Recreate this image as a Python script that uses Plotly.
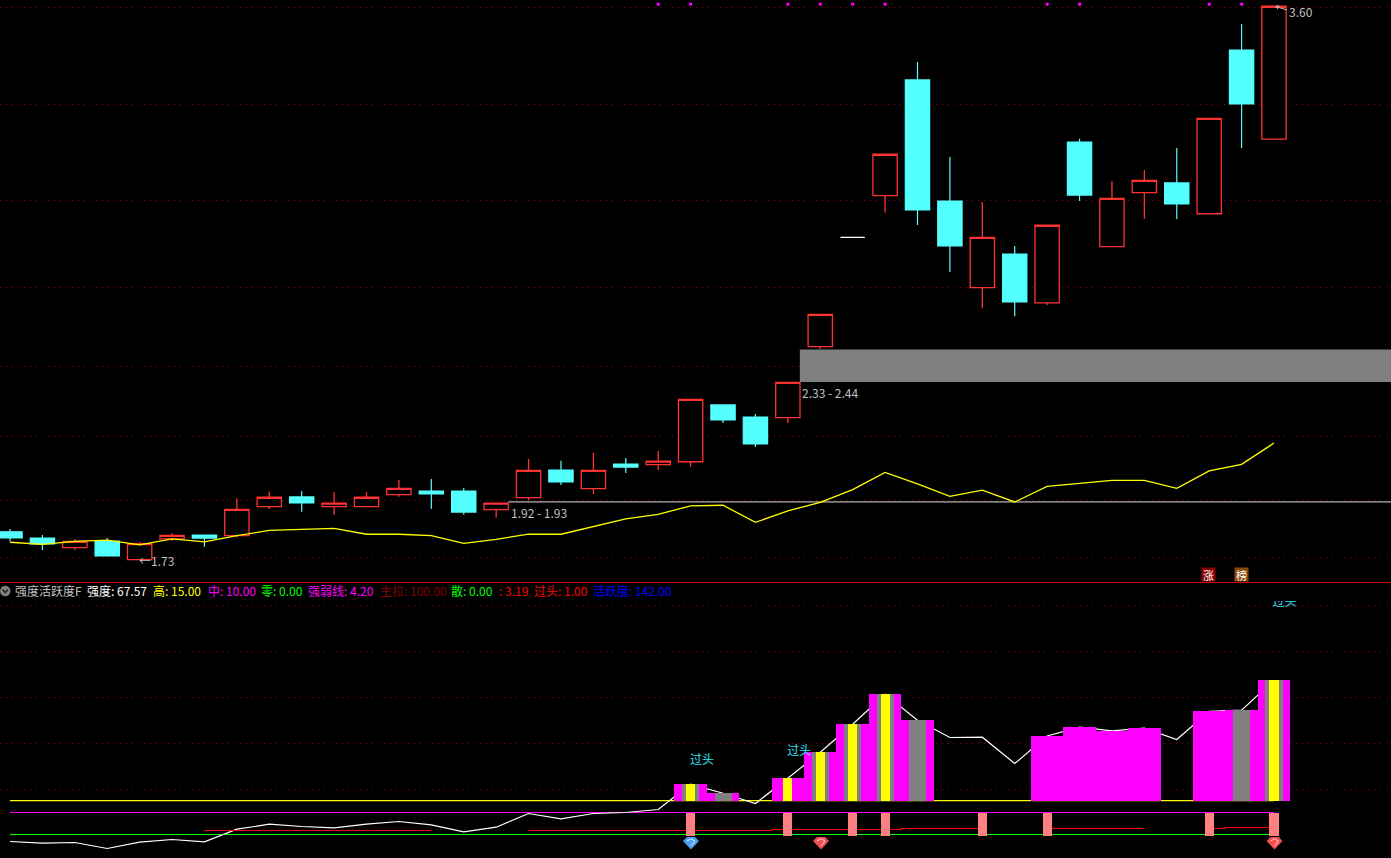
import plotly.graph_objects as go

# ---------- price panel data ----------
opens  = [1.824,1.803,1.771,1.793,1.730,1.800,1.813,1.811,1.909,1.942,1.909,1.909,1.950,1.962,1.962,1.899,1.940,2.033,1.970,2.053,
          2.051,2.061,2.253,2.212,2.210,2.450,2.819,2.960,3.351,2.942,2.649,2.763,2.598,3.141,2.788,2.970,3.003,2.899,3.452,3.151]
highs  = [1.834,1.813,1.800,1.803,1.790,1.820,1.813,1.938,1.960,1.962,1.959,1.959,1.999,2.003,1.972,1.921,2.070,2.064,2.091,2.074,
          2.097,2.272,2.253,2.222,2.329,2.559,2.819,3.100,3.412,3.091,2.939,2.790,2.860,3.152,3.010,3.047,3.121,3.221,3.540,3.600]
lows   = [1.793,1.763,1.763,1.743,1.730,1.794,1.774,1.804,1.901,1.892,1.882,1.909,1.943,1.902,1.882,1.872,1.932,1.982,1.952,2.023,
          2.033,2.043,2.192,2.111,2.192,2.442,2.819,2.903,2.861,2.702,2.580,2.553,2.591,2.942,2.788,2.881,2.881,2.899,3.121,3.151]
closes = [1.804,1.783,1.792,1.743,1.784,1.812,1.803,1.900,1.941,1.922,1.921,1.941,1.971,1.952,1.891,1.921,2.032,1.993,2.032,2.043,
          2.063,2.272,2.202,2.121,2.329,2.559,2.819,3.100,2.912,2.790,2.819,2.601,2.860,2.962,2.951,3.012,2.932,3.221,3.270,3.600]
ma_line = [1.789,1.782,1.792,1.796,1.780,1.800,1.790,1.811,1.829,1.833,1.836,1.816,1.816,1.811,1.785,1.799,1.816,1.816,1.841,1.868,
           1.883,1.912,1.914,1.856,1.895,1.924,1.967,2.025,1.986,1.944,1.965,1.925,1.978,1.987,1.998,1.998,1.971,2.030,2.052,2.124]
price_grid = [3.597,3.268,2.944,2.649,2.383,2.147,1.931,1.738]
signal_idx = [20,21,24,25,26,27,32,33,37,38]
signal_level = 3.607
band_upper = (24.37, 2.33, 2.44)
band_lower = (15.37, 1.922, 1.928)

# ---------- indicator panel data ----------
strength = [-2.60,-3.35,-3.04,-5.65,-2.91,-1.74,-2.78,2.74,4.91,3.91,3.30,4.91,6.09,4.61,1.57,3.61,9.57,7.22,9.57,10.00,
            11.30,22.30,18.39,13.91,24.91,36.22,48.39,61.43,50.13,42.61,42.74,31.30,43.30,47.09,45.48,46.65,41.74,54.04,54.48,67.57]
step_line = [None]*6 + [2.17]*8 + [None]*2 + [2.17]*8 + [2.61]*4 + [3.04]*3 + [None] + [3.04]*4 + [None] + [3.04] + [3.48]*2
high_line = [15.2]*40
mid_line = [10]*40
zero_line = [0.43]*40
bar_base = 15
pink_top = 10
pink_base = 0
indicator_grid = [20,40,60,80,100]
bar_idx = [21,22,24,25,26,27,28,32,33,34,35,37,38,39]
gray_idx = [21,22,25,26,27,28,38,39]
yellow_idx = [21,24,25,26,27,39]
pink_idx = [21,24,26,27,30,32,37,39]
over_labels_x = [20.98,23.98,38.95]
over_labels_y = [32.3,36.2,101.0]

W, H = 1391, 858
def px(x): return x / W
def py(y): return 1 - y / H

XR = [-0.3085, 42.61]
Y1R = [1.6546, 3.6212]
Y2R = [-9.78, 101.96]
RED, TEAL = "#FF3232", "#54FFFF"
idx = list(range(40))
fig = go.Figure()

# indicator lines (drawn below the bars)
for vals, col in [(high_line, "#FFFF00"), (mid_line, "#FF00FF"), (zero_line, "#00FF00")]:
    fig.add_trace(go.Scatter(x=idx, y=vals, mode="lines", line=dict(color=col, width=1.2), yaxis="y2", hoverinfo="skip"))
fig.add_trace(go.Scatter(x=idx, y=strength, mode="lines", line=dict(color="#FFFFFF", width=1.2), yaxis="y2", hoverinfo="skip"))
fig.add_trace(go.Scatter(x=idx, y=step_line, mode="lines", line=dict(color="#FF0000", width=1.2, shape="hvh"),
                         connectgaps=False, yaxis="y2", hoverinfo="skip"))

# stacked-looking bars
def bar(ids, width, color, base=bar_base, vals=None):
    ys = [(vals[i] if vals else strength[i]) - base for i in ids]
    fig.add_trace(go.Bar(x=ids, y=ys, base=[base]*len(ids), width=width, marker=dict(color=color, line=dict(width=0)),
                         yaxis="y3", hoverinfo="skip"))
bar(bar_idx, 1.0, "#FF00FF")
bar(gray_idx, 0.525, "#808080")
bar(yellow_idx, 0.28, "#FFFF00")
bar(pink_idx, 0.28, "#FF8080", base=pink_base, vals=[pink_top]*40)
fig.add_trace(go.Scatter(x=over_labels_x, y=over_labels_y, mode="text", text=["过头"]*3, textposition="middle right",
                         textfont=dict(color="#33E6FF", size=12, family="Noto Sans CJK SC"), yaxis="y3", hoverinfo="skip"))

# candles
reg = [i for i in idx if opens[i] != closes[i]]
doji = [i for i in idx if opens[i] == closes[i]]
fig.add_trace(go.Candlestick(x=reg, open=[opens[i] for i in reg], high=[highs[i] for i in reg],
                             low=[lows[i] for i in reg], close=[closes[i] for i in reg],
                             increasing=dict(line=dict(color=RED, width=1.3), fillcolor="#000000"),
                             decreasing=dict(line=dict(color=TEAL, width=1.2), fillcolor=TEAL),
                             whiskerwidth=0, yaxis="y", hoverinfo="skip"))
fig.add_trace(go.Candlestick(x=doji, open=[opens[i] for i in doji], high=[highs[i] for i in doji],
                             low=[lows[i] for i in doji], close=[closes[i] for i in doji],
                             increasing=dict(line=dict(color="#FFFFFF", width=1.2), fillcolor="#FFFFFF"),
                             decreasing=dict(line=dict(color="#FFFFFF", width=1.2), fillcolor="#FFFFFF"),
                             whiskerwidth=0, yaxis="y", hoverinfo="skip"))
fig.add_trace(go.Scatter(x=idx, y=ma_line, mode="lines", line=dict(color="#FFFF00", width=1.3), yaxis="y", hoverinfo="skip"))
fig.add_trace(go.Scatter(x=signal_idx, y=[signal_level]*len(signal_idx), mode="markers",
                         marker=dict(symbol="square", size=3, color="#FF00FF", line=dict(width=0)), yaxis="y", hoverinfo="skip"))

# shapes
shapes = []
for x0, lo, hi in (band_upper, band_lower):
    shapes.append(dict(type="rect", xref="x", yref="y", x0=x0, x1=XR[1], y0=lo, y1=hi,
                       fillcolor="#808080", line=dict(width=0), layer="between"))
shapes.append(dict(type="line", xref="paper", yref="paper", x0=0, x1=1, y0=py(582.5), y1=py(582.5),
                   line=dict(color="#CC0000", width=1.2)))
# collapse icon
shapes.append(dict(type="circle", xref="paper", yref="paper", x0=px(0), x1=px(10.5), y0=py(585.7), y1=py(596.2),
                   fillcolor="#808080", line=dict(width=0)))
def pth(points, close=True):
    s = "M " + " L ".join(f"{px(a):.5f} {py(b):.5f}" for a, b in points)
    return s + (" Z" if close else "")
shapes.append(dict(type="path", xref="paper", yref="paper", path=pth([(2.5,589.5),(5.2,592.5),(8,589.5)], False),
                   line=dict(color="#222222", width=1.6)))
# gems
def gem(cx, col, hi):
    t = 837
    shapes.append(dict(type="path", xref="paper", yref="paper",
                       path=pth([(cx-8,841),(cx-4,t),(cx+4,t),(cx+8,841),(cx,849.5)]),
                       fillcolor=col, line=dict(width=0)))
    shapes.append(dict(type="path", xref="paper", yref="paper",
                       path=pth([(cx-4,841),(cx,838.8),(cx+4,841),(cx,846)], False),
                       line=dict(color=hi, width=1)))
gem(691, "#4C9FEF", "#CFEAFF")
gem(821, "#F25050", "#FFD0D0")
gem(1274.5, "#F25050", "#FFD0D0")
# arrow at the high
shapes.append(dict(type="path", xref="paper", yref="paper",
                   path=pth([(1287,10),(1276,6.5),(1278,9),(1276,6.5),(1279,5.5)], False),
                   line=dict(color="#C0C0C0", width=1)))

# text
anns = []
def label(x, y, t, col, size=12):
    anns.append(dict(x=px(x - 1), y=py(y), xref="paper", yref="paper", text=t, showarrow=False, xanchor="left", yanchor="middle",
                     font=dict(color=col, size=size, family="Noto Sans CJK SC"), borderpad=0))
HDR = [(14.7,"强度活跃度F","#C0C0C0"),(86.6,"强度: 67.57","#FFFFFF"),(152.7,"高: 15.00","#FFFF00"),(207.6,"中: 10.00","#FF00FF"),
       (261,"零: 0.00","#00FF00"),(307.6,"强弱线: 4.20","#FF00FF"),(379.5,"主拉: 100.00","#800000"),(451,"散: 0.00","#00FF00"),
       (499,": 3.19","#FF0000"),(534,"过头: 1.00","#FF0000"),(593,"活跃度: 142.00","#0000FF")]
for x, t, c in HDR:
    label(x, 590.3, t, c)
label(139, 560.5, "←1.73", "#C0C0C0")
label(510.5, 512, "1.92 - 1.93", "#C0C0C0")
label(802, 392, "2.33 - 2.44", "#C0C0C0")
label(1289, 12, "3.60", "#C0C0C0")
for bx, ch, bg in [(1208.5, "涨", "#8B0000"), (1241.5, "榜", "#8B4A10")]:
    anns.append(dict(x=px(bx), y=py(574.5), xref="paper", yref="paper", text=ch, showarrow=False, width=13, height=13,
                     xanchor="center", yanchor="middle", bgcolor=bg,
                     font=dict(color="#FFFFFF", size=11, family="Noto Sans CJK SC"), borderpad=0))

grid = dict(showticklabels=False, ticks="", zeroline=False, showline=False, tickmode="array",
            gridcolor="#A00000", griddash="1px,5px", gridwidth=1, showgrid=True)
fig.update_layout(
    width=W, height=H, margin=dict(l=0, r=0, t=0, b=0, pad=0), autosize=False,
    paper_bgcolor="#000000", plot_bgcolor="#000000", showlegend=False, hovermode=False,
    barmode="overlay", boxgap=0.25, boxgroupgap=0, bargap=0,
    xaxis=dict(range=XR, visible=False, rangeslider=dict(visible=False), showgrid=False, zeroline=False, fixedrange=True),
    yaxis=dict(domain=[1-582/H, 1], range=Y1R, tickvals=price_grid, fixedrange=True, **grid),
    yaxis2=dict(domain=[0, 1-601/H], range=Y2R, tickvals=indicator_grid, fixedrange=True, **grid),
    yaxis3=dict(range=Y2R, overlaying="y2", visible=False, showgrid=False, zeroline=False, fixedrange=True),
    shapes=shapes, annotations=anns,
)
fig.write_html("out.html", config=dict(displayModeBar=False),
               post_script="document.body.style.margin='0';document.body.style.background='#000';document.documentElement.style.overflow='hidden';")
